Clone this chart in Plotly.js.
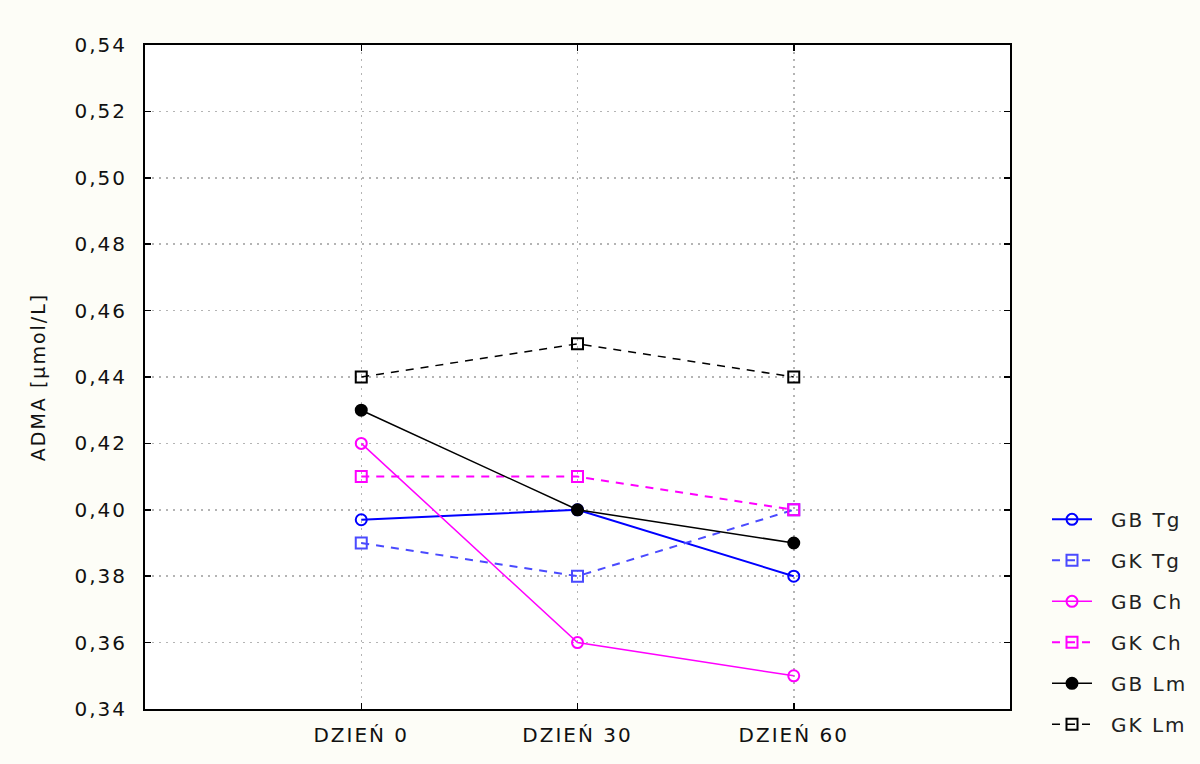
<!DOCTYPE html>
<html><head><meta charset="utf-8">
<script src="https://cdn.plot.ly/plotly-3.0.1.min.js"></script>
<style>
html,body{margin:0;padding:0;background:#fdfdf7;}
#chart svg text{letter-spacing:2px;}
#chart svg .legendtext{transform:translateX(14px);}
#chart svg .legend, #chart svg .legend .scrollbox, #chart svg .legend g{clip-path:none !important;}
</style>
</head><body>
<div id="chart" style="width:1200px;height:764px;"></div>
<script>
const categories = ['DZIEŃ 0', 'DZIEŃ 30', 'DZIEŃ 60'];
const seriesNames = ['GB Tg', 'GK Tg', 'GB Ch', 'GK Ch', 'GB Lm', 'GK Lm'];
const gbTg = [0.397, 0.400, 0.380];
const gkTg = [0.390, 0.380, 0.400];
const gbCh = [0.420, 0.360, 0.350];
const gkCh = [0.410, 0.410, 0.400];
const gbLm = [0.430, 0.400, 0.390];
const gkLm = [0.440, 0.450, 0.440];
const yTicks = [0.34, 0.36, 0.38, 0.40, 0.42, 0.44, 0.46, 0.48, 0.50, 0.52, 0.54];

const styles = [
  {color:'#0000ff', dash:'solid', symbol:'circle-open', width:2},
  {color:'#4a4aff', dash:'8px,7px', symbol:'square-open', width:2},
  {color:'#ff00ff', dash:'solid', symbol:'circle-open', width:1.5},
  {color:'#ff00ff', dash:'8px,7px', symbol:'square-open', width:2},
  {color:'#000000', dash:'solid', symbol:'circle', width:1.5},
  {color:'#000000', dash:'8px,7px', symbol:'square-open', width:1.5}
];
const values = [gbTg, gkTg, gbCh, gkCh, gbLm, gkLm];

const traces = values.map((v, i) => ({
  x: categories, y: v, name: seriesNames[i], type: 'scatter', mode: 'lines+markers',
  legendgroup: 'g' + i,
  line: {color: styles[i].color, dash: styles[i].dash, width: styles[i].width},
  marker: {symbol: styles[i].symbol, size: 11, color: styles[i].color, line: {color: styles[i].color, width: 2}}
}));

const FONT = 'DejaVu Sans, Verdana, sans-serif';
const layout = {
  width: 1200, height: 764,
  paper_bgcolor: '#fdfdf7', plot_bgcolor: '#ffffff',
  margin: {l: 145, r: 190, t: 45, b: 55},
  font: {family: FONT, size: 20, color: '#111'},
  separators: ',.',
  showlegend: true,
  legend: {x: (1047-145)/865, xanchor: 'left', y: 0.315, yanchor: 'top', bgcolor: 'rgba(0,0,0,0)',
           font: {family: FONT, size: 20, color: '#222'}, traceorder: 'grouped', tracegroupgap: 12, itemwidth: 40},
  xaxis: {
    type: 'category', range: [-1, 3], tickvals: categories,
    showgrid: true, gridcolor: '#b4b4b4', griddash: '2px,5px', gridwidth: 1.5,
    showline: true, linecolor: '#000', linewidth: 2, mirror: 'ticks',
    ticks: 'inside', ticklen: 6, tickcolor: '#000', tickwidth: 1.5,
    tickfont: {family: FONT, size: 20}, ticklabelstandoff: 7, zeroline: false
  },
  yaxis: {
    range: [0.34, 0.54], tickvals: yTicks, tickformat: '.2f',
    showgrid: true, gridcolor: '#b4b4b4', griddash: '2px,5px', gridwidth: 1.5,
    showline: true, linecolor: '#000', linewidth: 2, mirror: 'ticks',
    ticks: 'inside', ticklen: 6, tickcolor: '#000', tickwidth: 1.5,
    tickfont: {family: FONT, size: 20}, ticklabelstandoff: 12, zeroline: false,
    title: {text: 'ADMA [μmol/L]', font: {family: FONT, size: 19}, standoff: 32}
  }
};

Plotly.newPlot('chart', traces, layout, {displayModeBar: false, staticPlot: true});
</script>
</body></html>
